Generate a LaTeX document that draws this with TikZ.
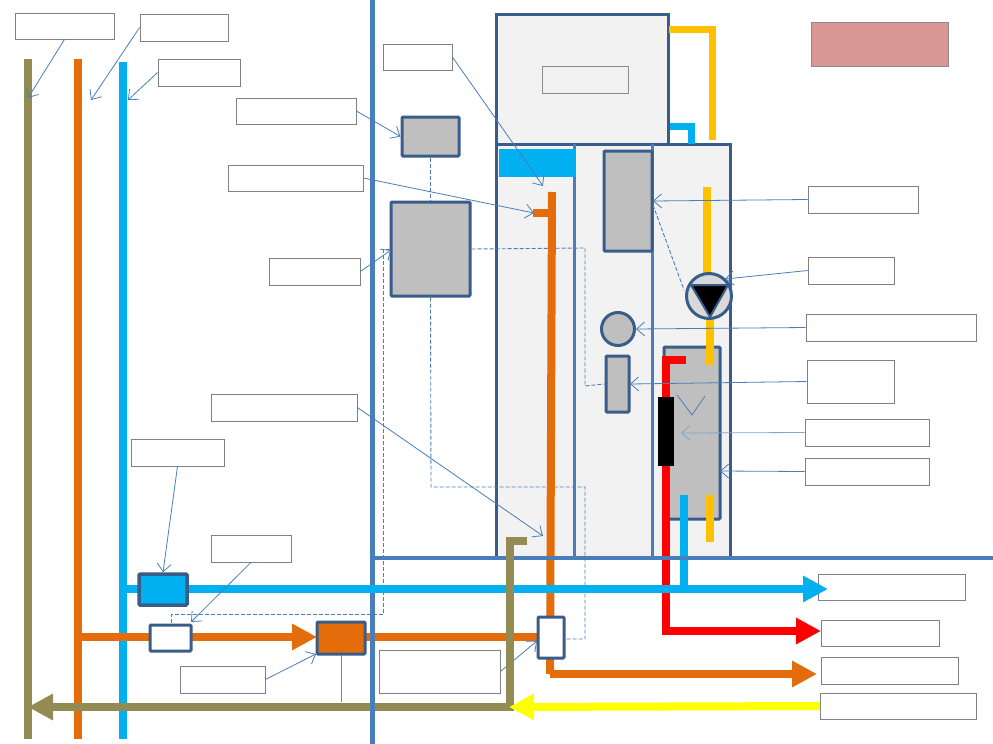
\documentclass[tikz,border=0pt]{standalone}
\usepackage{tikz}
\usetikzlibrary{arrows.meta}
\definecolor{framedk}{HTML}{385D8A}
\definecolor{lineblue}{HTML}{4A7EBB}
\definecolor{pipeblue}{HTML}{00B0F0}
\definecolor{pipeorange}{HTML}{E46C0A}
\definecolor{pipeolive}{HTML}{948B54}
\definecolor{pipegold}{HTML}{FFC000}
\definecolor{pipeyellow}{HTML}{FFFF00}
\definecolor{pipered}{HTML}{FF0000}
\definecolor{pinkbox}{HTML}{D99694}
\tikzset{
  lbl/.style={draw=black!50, fill=white, line width=0.8pt, inner sep=0pt},
  part/.style={draw=framedk, line width=3pt, fill=black!25, rounded corners=1pt, inner sep=0pt},
  panel/.style={draw=framedk, line width=3pt, fill=black!5, inner sep=0pt},
  leader/.style={draw=lineblue, line width=0.8pt, -{Straight Barb[length=8pt,width=14pt,line width=0.8pt]}},
  ctl/.style={draw=lineblue, line width=0.9pt, dash pattern=on 4pt off 2pt},
  pipe/.style={line width=8pt},
  flow/.style={line width=8pt, -{Triangle[length=25pt,width=25pt]}}
}
\begin{document}
\begin{tikzpicture}[x=1pt,y=-1pt]
\useasboundingbox (0,0) rectangle (993,744);
% labels:
\node[lbl, minimum width=99pt, minimum height=26pt] (lblReturn) at (64.5,26) {};
\node[lbl, minimum width=88pt, minimum height=27pt] (lblHot) at (184,27.5) {};
\node[lbl, minimum width=82pt, minimum height=27pt] (lblCold) at (199,72.5) {};
\node[lbl, minimum width=120pt, minimum height=26pt] (lblCtrlA) at (296,111) {};
\node[lbl, minimum width=135pt, minimum height=26pt] (lblStub) at (295.5,178) {};
\node[lbl, minimum width=91pt, minimum height=27pt] (lblCtrlB) at (314.5,271.5) {};
\node[lbl, minimum width=69pt, minimum height=26pt] (lblRiser) at (417.5,57) {};
\node[lbl, minimum width=146pt, minimum height=27pt] (lblFeed) at (284,407.5) {};
\node[lbl, minimum width=93pt, minimum height=27pt] (lblMixer) at (177.5,452.5) {};
\node[lbl, minimum width=80pt, minimum height=27pt] (lblTapA) at (251,548.5) {};
\node[lbl, minimum width=85pt, minimum height=27pt] (lblBoiler) at (222.5,679.5) {};
\node[lbl, minimum width=121pt, minimum height=43pt] (lblTapB) at (439.5,671.5) {};
\node[lbl, minimum width=110pt, minimum height=27pt] (lblValve) at (863,199.5) {};
\node[lbl, minimum width=86pt, minimum height=27pt] (lblPump) at (851,270.5) {};
\node[lbl, minimum width=170pt, minimum height=27pt] (lblMeter) at (891,327.5) {};
\node[lbl, minimum width=87pt, minimum height=43pt] (lblSensor) at (850.5,381.5) {};
\node[lbl, minimum width=124pt, minimum height=27pt] (lblHeater) at (867,432.5) {};
\node[lbl, minimum width=124pt, minimum height=27pt] (lblExch) at (867,471.5) {};
\node[lbl, minimum width=147pt, minimum height=26pt] (lblOutA) at (891.5,587) {};
\node[lbl, minimum width=118pt, minimum height=26pt] (lblOutB) at (880,633) {};
\node[lbl, minimum width=137pt, minimum height=27pt] (lblOutC) at (889.5,670.5) {};
\node[lbl, minimum width=156pt, minimum height=26pt] (lblOutD) at (898,706) {};
% pink box:
\node[draw=black!45, fill=pinkbox, line width=0.6pt, minimum width=137pt, minimum height=44pt, inner sep=0pt] (legend) at (879.5,44) {};
% cabinet:
\node[panel, minimum width=172pt, minimum height=130pt] (store) at (582,79) {};
\node[panel, minimum width=234pt, minimum height=413pt] (cabinet) at (613.5,350.5) {};
\node[draw=black!45, fill=black!5, line width=0.6pt, minimum width=86pt, minimum height=27pt, inner sep=0pt] (gauge) at (585,79.5) {};
\draw[draw=lineblue, line width=3pt] (574.5,144) -- (574.5,557);
\draw[draw=lineblue, line width=3pt] (652.5,144) -- (652.5,557);
\node[fill=pipeblue, minimum width=77pt, minimum height=28pt, inner sep=0pt] (tank) at (537.5,163) {};
% gold and small blue pipes:
\draw[pipegold, line width=7pt] (669,29) -- (712,29) -- (712,140);
\draw[pipeblue, line width=7pt] (670,126) -- (691,126) -- (691,144);
% parts in the cabinet:
\node[part, minimum width=48pt, minimum height=100pt] (valve) at (628,201) {};
\node[part, circle, minimum size=33pt] (meter) at (618,329) {};
\node[part, minimum width=23pt, minimum height=56pt] (sensor) at (617.5,384) {};
\node[part, minimum width=56pt, minimum height=172pt] (exch) at (692,433) {};
\draw[pipegold, line width=8pt] (707,187) -- (707,275);
\draw[pipegold, line width=8pt] (710,316) -- (710,365);
\draw[pipegold, line width=8pt] (710,495) -- (710,542);
\node[part, circle, fill=black!15, minimum size=45pt] (pump) at (709,296) {};
\draw[draw=framedk, line width=2pt, fill=black] (691,285) -- (728,285) -- (710,317) -- cycle;
% boxes left of the cabinet:
\node[part, minimum width=57pt, minimum height=39pt] (ctrlA) at (430.5,136.5) {};
\node[part, minimum width=79pt, minimum height=94pt] (ctrlB) at (430.5,249) {};
% wiring:
\draw[ctl] (ctrlA.south) -- (ctrlB.north);
\draw[ctl] (ctrlB.south) -- (431,487) -- (585,487) -- (585,639) -- (564,639);
\draw[ctl] (ctrlB.east) -- (585,248) -- (585,386) -- (sensor.west);
\draw[ctl] (ctrlB.west) -- (383.4,249) -- (383.4,614) -- (171.4,614) -- (171.4,625);
\draw[ctl] (653,205) -- (684,290);
% mains:
\draw[pipeolive, line width=8pt] (28,59) -- (28,739);
\draw[pipeorange, line width=8pt] (77.5,59) -- (77.5,739);
\draw[pipeblue, line width=8pt] (123,62) -- (123,739);
% lower pipes:
\draw[pipered, flow] (686,360) -- (666,360) -- (666,631) -- (821,631);
\node[fill=black, minimum width=16pt, minimum height=69pt, inner sep=0pt] (heater) at (666,431.5) {};
\draw[lineblue, line width=0.8pt] (677,395) -- (692,415) -- (705,396);
\draw[pipeorange, pipe] (552,192) -- (550,674);
\draw[pipeorange, flow] (550,674) -- (817,674);
\draw[pipeorange, pipe] (533,213) -- (552,213);
\draw[pipeblue, pipe] (684,495) -- (684,589);
\draw[pipeorange, line width=1pt] (341,654) -- (341,702);
\draw[pipeorange, flow] (77,637) -- (317,637);
\draw[pipeorange, pipe] (365,637) -- (538,637);
\draw[pipeolive, flow] (510,707) -- (28,707);
% dividers:
\draw[lineblue, line width=4pt] (372,558) -- (993,558);
\draw[lineblue, line width=5pt] (372,0) -- (372,744);
\draw[pipeblue, flow] (127,589) -- (828,589);
% leader under the olive pipe:
\coordinate (ptTapB) at (537,641);
\draw[leader] (lblTapB.east) -- (ptTapB);
\draw[pipeolive, pipe] (527,541) -- (510,541) -- (510,711);
\draw[pipeyellow, flow] (820,706) -- (509,707);
% valves on the pipes:
\node[part, fill=pipeblue, line width=3.5pt, minimum width=48pt, minimum height=31pt] (mixer) at (163,589.5) {};
\node[part, fill=white, minimum width=41pt, minimum height=26pt] (tapA) at (170.5,638) {};
\node[part, fill=pipeorange, minimum width=48pt, minimum height=32pt] (boiler) at (341,638) {};
\node[part, fill=white, minimum width=26pt, minimum height=41pt] (tapB) at (551,637.5) {};
% free ends of the leaders:
\coordinate (ptReturn) at (28,98);
\coordinate (ptHot) at (91,100);
\coordinate (ptCold) at (128,100);
\coordinate (ptStub) at (534,213);
\coordinate (ptRiser) at (543,186);
\coordinate (ptFeed) at (543,536);
\coordinate (ptPump) at (725,279);
\coordinate (ptHeater) at (681,433);
\coordinate (ptTapA) at (191,622);
\coordinate (ptBoiler) at (316,654);
\coordinate (ptValve) at (653,201);
\coordinate (ptSensor) at (630,384);
\coordinate (ptExch) at (720,471);
% leaders:
\draw[leader] (lblReturn.south) -- (ptReturn);
\draw[leader] (lblHot.west) -- (ptHot);
\draw[leader] (lblCold.west) -- (ptCold);
\draw[leader] (lblCtrlA.east) -- (ctrlA.west);
\draw[leader] (lblStub.east) -- (ptStub);
\draw[leader] (lblCtrlB.east) -- (391,250);
\draw[leader] (lblRiser.east) -- (ptRiser);
\draw[leader] (lblFeed.east) -- (ptFeed);
\draw[leader] (lblMixer.south) -- (mixer.north);
\draw[leader] (lblTapA.south) -- (ptTapA);
\draw[leader] (lblBoiler.east) -- (ptBoiler);
\draw[leader] (lblValve.west) -- (ptValve);
\draw[leader] (lblPump.west) -- (ptPump);
\draw[leader] (lblMeter.west) -- (meter.east);
\draw[leader] (lblSensor.west) -- (ptSensor);
\draw[leader, draw=lineblue!70] (lblHeater.west) -- (ptHeater);
\draw[leader] (lblExch.west) -- (ptExch);
\end{tikzpicture}
\end{document}
